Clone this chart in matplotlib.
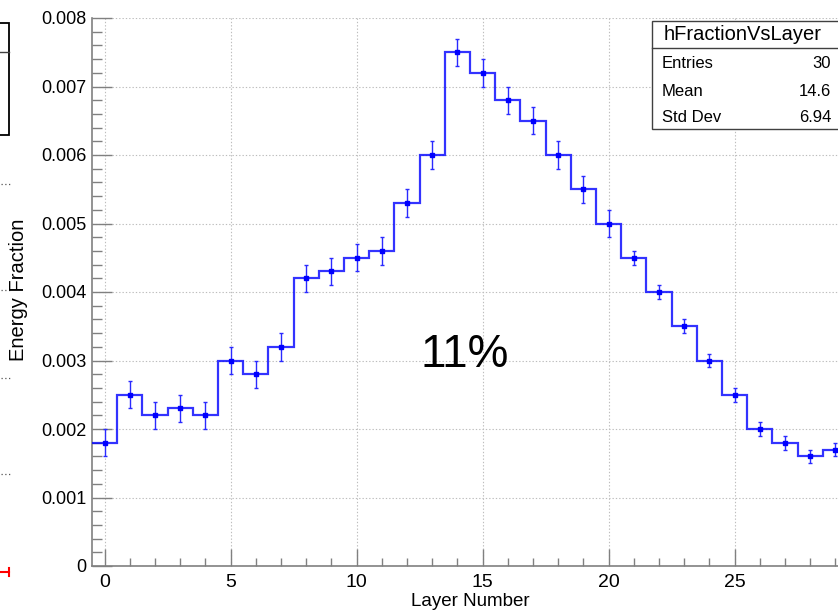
import numpy as np
import matplotlib
matplotlib.use("Agg")
import matplotlib.pyplot as plt
from matplotlib.lines import Line2D
from matplotlib.patches import Rectangle
from matplotlib.ticker import MultipleLocator

# ---- data ----
layers = list(range(30))
fraction = [0.0018, 0.0025, 0.0022, 0.0023, 0.0022, 0.0030, 0.0028, 0.0032,
            0.0042, 0.0043, 0.0045, 0.0046, 0.0053, 0.0060, 0.0075, 0.0072,
            0.0068, 0.0065, 0.0060, 0.0055, 0.0050, 0.0045, 0.0040, 0.0035,
            0.0030, 0.0025, 0.0020, 0.0018, 0.0016, 0.0017]
errors = [0.0002] * 21 + [0.0001] * 9
bin_edges = [l - 0.5 for l in layers] + [layers[-1] + 0.5]
x_ticks = [0, 5, 10, 15, 20, 25]
y_ticks = [0, 0.001, 0.002, 0.003, 0.004, 0.005, 0.006, 0.007, 0.008]
y_ticklabels = ["0", "0.001", "0.002", "0.003", "0.004", "0.005", "0.006", "0.007", "0.008"]
hist_name = "hFractionVsLayer"
annotation = "11%"

normal = ["Liberation Sans", "DejaVu Sans"]
plt.rcParams['font.family'] = normal

W, H = 838, 616
fig = plt.figure(figsize=(W / 100, H / 100), dpi=100)

def fx(px):
    return px / W

def fy(py):
    return 1 - py / H

left, right, top, bottom = 92, 848, 18, 566
ax = fig.add_axes([fx(left), fy(bottom), (right - left) / W, (bottom - top) / H])
ax.set_xlim(-0.5, 29.5)
ax.set_ylim(0, 0.008)

# grid
grid_kw = dict(color="#bdbdbd", lw=0.8, ls=(0, (1.2, 1.8)), zorder=0)
for xv in x_ticks:
    ax.axvline(xv, **grid_kw)
for yv in y_ticks:
    ax.axhline(yv, **grid_kw)

# histogram
ax.stairs(fraction, bin_edges, baseline=None, color="#0000ff", lw=1.6, alpha=0.8, zorder=3)
ax.errorbar(layers, fraction, yerr=errors, fmt="s", ms=2.6, color="#0000ff",
            ecolor="#2a2aff", elinewidth=1.0, capsize=1.2, capthick=1.0, zorder=4)

# axes styling
for s in ["top", "right"]:
    ax.spines[s].set_visible(False)
for s in ["left", "bottom"]:
    ax.spines[s].set_color("#808080")
    ax.spines[s].set_linewidth(1.2)

ax.set_xticks(x_ticks)
ax.set_xticklabels([str(v) for v in x_ticks])
ax.xaxis.set_minor_locator(MultipleLocator(1))
ax.set_yticks(y_ticks)
ax.set_yticklabels(y_ticklabels)
ax.yaxis.set_minor_locator(MultipleLocator(0.0002))
ax.tick_params(axis="y", which="major", direction="in", length=14.4, width=1.0,
               color="#808080", labelsize=13, pad=4)
ax.tick_params(axis="y", which="minor", direction="in", length=7.2, width=1.0, color="#808080")
ax.tick_params(axis="x", which="major", direction="in", length=12, width=1.0,
               color="#808080", labelsize=14, pad=6)
ax.tick_params(axis="x", which="minor", direction="in", length=6, width=1.0, color="#808080")

ax.set_xlabel("Layer Number", fontsize=13.5, labelpad=1)

fig.text(fx(19), fy(290), "Energy Fraction", rotation=90, ha="center", va="center",
         fontsize=14.5)

ax.text(14.3, 0.0029, annotation, fontsize=33, ha="center", va="baseline", zorder=5)

# stats box
w = np.array(fraction)
c = np.array(layers, dtype=float)
mean = (w * c).sum() / w.sum()
std = np.sqrt((w * (c - mean) ** 2).sum() / w.sum())
entries = len(layers)

bx0, by0, bx1, by1, bsep = 652, 21, 860, 129, 48
fig.patches.append(Rectangle((fx(bx0), fy(by1)), (bx1 - bx0) / W, (by1 - by0) / H,
                             transform=fig.transFigure, facecolor="white",
                             edgecolor="#404040", lw=1.0, zorder=10))
fig.lines.append(Line2D([fx(bx0), fx(bx1)], [fy(bsep), fy(bsep)], transform=fig.transFigure,
                        color="#404040", lw=1.0, zorder=11))
fig.text(fx(743), fy(35), hist_name, ha="center", va="center", fontsize=14.5, zorder=12)
rows = [("Entries", f"{entries}", 63), ("Mean", f"{mean:.3g}", 91), ("Std Dev", f"{std:.3g}", 118)]
for lab, val, yy in rows:
    fig.text(fx(662), fy(yy), lab, ha="left", va="center", fontsize=12, zorder=12)
    fig.text(fx(831), fy(yy), val, ha="right", va="center", fontsize=12, zorder=12)

# remnants of neighbouring panel at the left edge
fig.patches.append(Rectangle((fx(-20), fy(135)), (9 + 20) / W, (135 - 23) / H,
                             transform=fig.transFigure, facecolor="none",
                             edgecolor="black", lw=1.3))
fig.lines.append(Line2D([0, fx(9)], [fy(52), fy(52)], transform=fig.transFigure,
                        color="#404040", lw=1.0))
for yy in [184, 290, 378, 474]:
    fig.lines.append(Line2D([fx(1), fx(10)], [fy(yy), fy(yy)], transform=fig.transFigure,
                            color="#555555", lw=0.9, ls=(0, (1, 2))))
fig.lines.append(Line2D([0, fx(9)], [fy(572), fy(572)], transform=fig.transFigure,
                        color="red", lw=1.5))
fig.lines.append(Line2D([fx(9), fx(9)], [fy(568), fy(576)], transform=fig.transFigure,
                        color="red", lw=1.5))

fig.savefig("out.png", dpi=100)
